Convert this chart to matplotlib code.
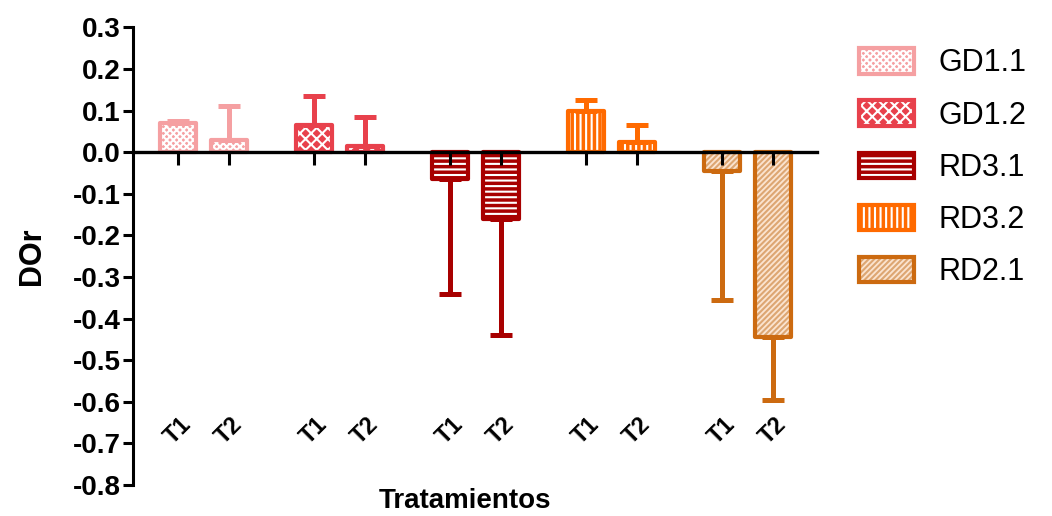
import matplotlib.pyplot as plt
from matplotlib.patches import Patch
from matplotlib.legend_handler import HandlerTuple

plt.rcParams['font.family'] = ['Liberation Sans', 'DejaVu Sans']
plt.rcParams['hatch.linewidth'] = 1.5

groups = ['GD1.1', 'GD1.2', 'RD3.1', 'RD3.2', 'RD2.1']
treatments = ['T1', 'T2']
t1 = [0.07, 0.065, -0.065, 0.10, -0.045]
t2 = [0.03, 0.015, -0.16, 0.025, -0.445]
err_t1 = [0.005, 0.07, 0.275, 0.025, 0.31]
err_t2 = [0.08, 0.07, 0.28, 0.04, 0.15]

colors = ['#F5A0A2', '#E8414C', '#A80000', '#FF6A00', '#CC6A10']
faces = ['#F5A0A2', '#E8414C', '#A80000', '#FF6A00', '#FBE4D0']
hatch_col = ['white', 'white', 'white', 'white', '#DDA672']
hatches = ['xxxxx', 'xxx', '---', '|||', '//////']

fig = plt.figure(figsize=(10.52, 5.16), dpi=100)
ax = fig.add_axes([0.1264, 0.060, 0.650, 0.887])

gap = 2.67
w = 0.70
ticks = []
for g in range(len(groups)):
    for j, (vals, errs) in enumerate([(t1, err_t1), (t2, err_t2)]):
        x = g * gap + j
        ticks.append(x)
        v = vals[g]
        ax.bar(x, v, w, color=faces[g], edgecolor=hatch_col[g], hatch=hatches[g], linewidth=0, zorder=1)
        ax.bar(x, v, w, fill=False, edgecolor=colors[g], linewidth=3, joinstyle='round', zorder=1.2)
        if v >= 0:
            yerr = [[0], [errs[g]]]
        else:
            yerr = [[errs[g]], [0]]
        ax.errorbar(x, v, yerr=yerr, fmt='none', ecolor=colors[g], elinewidth=3.6,
                    capsize=8, capthick=3.6, zorder=1.1)
        ax.text(x, -0.67, treatments[j], rotation=45, ha='center', va='center',
                fontsize=17, fontweight='bold')

ax.set_xlim(-0.88, 4 * gap + 1 + 0.86)
ax.set_ylim(-0.8, 0.3)
ax.set_yticks([0.3, 0.2, 0.1, 0.0, -0.1, -0.2, -0.3, -0.4, -0.5, -0.6, -0.7, -0.8])
ax.set_yticklabels(['%.1f' % t for t in ax.get_yticks()], fontsize=20, fontweight='bold')
ax.set_xticks(ticks)
ax.set_xticklabels([])
ax.spines['top'].set_visible(False)
ax.spines['right'].set_visible(False)
ax.spines['bottom'].set_position(('data', 0))
ax.spines['bottom'].set_linewidth(2.4)
ax.spines['left'].set_linewidth(2.2)
ax.tick_params(axis='y', width=2.2, length=7, pad=2)
ax.tick_params(axis='x', width=2.2, length=9)
ax.set_ylabel('DOr', fontsize=22, fontweight='bold', labelpad=18)
fig.text(0.442, 0.03, 'Tratamientos', ha='center', va='center', fontsize=20, fontweight='bold')

handles = []
for g in range(len(groups)):
    handles.append((Patch(facecolor=faces[g], edgecolor=hatch_col[g], hatch=hatches[g], linewidth=0),
                    Patch(fill=False, edgecolor=colors[g], linewidth=3)))
fig.legend(handles, groups, handler_map={tuple: HandlerTuple(ndivide=1)},
           loc='upper left', bbox_to_anchor=(0.79, 0.96), frameon=False, fontsize=22,
           handlelength=1.8, handleheight=0.9, labelspacing=0.72, handletextpad=0.8)

fig.savefig('out.png', dpi=100)
